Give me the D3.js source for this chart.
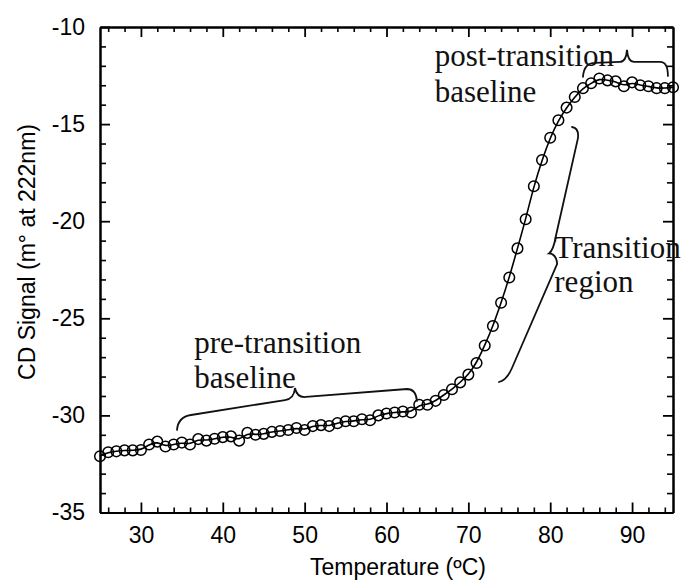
<!DOCTYPE html>
<html>
<head>
<meta charset="utf-8">
<script src="https://cdn.jsdelivr.net/npm/d3@7/dist/d3.min.js"></script>
<style>
  html, body { margin: 0; padding: 0; background: #fff; }
  svg { display: block; }
  .tick text { font-family: "Liberation Sans", Arial, sans-serif; font-size: 23px; fill: #000; }
  .axis-title { font-family: "Liberation Sans", Arial, sans-serif; font-size: 23px; fill: #000; }
  .note { font-family: "Liberation Serif", "Times New Roman", serif; font-size: 31px; fill: #111; }
</style>
</head>
<body>
<svg id="chart" width="685" height="584"></svg>
<script>
// Thermal melt: CD signal at 222 nm versus temperature
const temperatures = [25,26,27,28,29,30,31,32,33,34,35,36,37,38,39,40,41,42,43,44,45,46,47,48,49,50,
  51,52,53,54,55,56,57,58,59,60,61,62,63,64,65,66,67,68,69,70,71,72,73,74,75,76,77,78,79,80,
  81,82,83,84,85,86,87,88,89,90,91,92,93,94,95];
const cdSignal = [-32.1,-31.9,-31.85,-31.8,-31.8,-31.78,-31.5,-31.35,-31.6,-31.5,-31.4,-31.5,-31.22,-31.3,-31.2,-31.12,
  -31.08,-31.3,-30.9,-31.0,-30.95,-30.85,-30.8,-30.75,-30.65,-30.75,-30.55,-30.5,-30.55,-30.4,-30.3,-30.3,-30.2,
  -30.25,-30.0,-29.9,-29.85,-29.8,-29.85,-29.45,-29.45,-29.25,-28.95,-28.65,-28.3,-27.9,-27.3,-26.4,-25.4,-24.2,
  -22.9,-21.4,-19.9,-18.2,-16.85,-15.7,-14.8,-14.15,-13.6,-13.15,-12.9,-12.65,-12.75,-12.8,-13.05,-12.85,-13.0,
  -13.05,-13.15,-13.15,-13.1];

const xMajorTicks = [30,40,50,60,70,80,90];
const xMinorTicks = [26,28,32,34,36,38,42,44,46,48,52,54,56,58,62,64,66,68,72,74,76,78,82,84,86,88,92,94];
const yMajorTicks = [-35,-30,-25,-20,-15,-10];
const yMinorTicks = [-34,-33,-32,-31,-29,-28,-27,-26,-24,-23,-22,-21,-19,-18,-17,-16,-14,-13,-12,-11];

const xTitle = "Temperature (ºC)";
const yTitle = "CD Signal (m° at 222nm)";

// Annotation labels, anchored in data units [temperature, signal]
const notes = [
  { lines: ["post-transition", "baseline"], at: [65.9, -12.01], lead: 1.83 },
  { lines: ["Transition", "region"], at: [80.5, -21.9], lead: 1.75 },
  { lines: ["pre-transition", "baseline"], at: [36.5, -26.8], lead: 1.8 }
];

// Curly braces as path commands in data units
const braces = [
  // post-transition baseline
  [["M",84.0,-12.57],["Q",84.13,-11.85,85.47,-11.85],["L",88.52,-11.8],["Q",89.26,-11.8,89.38,-11.18],
   ["Q",89.5,-11.8,90.23,-11.8],["L",93.41,-11.8],["Q",94.38,-11.8,94.38,-12.52]],
  // transition region
  [["M",82.66,-15.15],["Q",83.52,-15.2,83.39,-15.72],["L",80.7,-20.75],["Q",80.4,-21.5,79.85,-21.66],
   ["Q",80.75,-21.69,80.85,-22.2],["L",75.33,-27.56],["Q",74.72,-28.17,73.74,-28.28]],
  // pre-transition baseline
  [["M",34.41,-30.75],["Q",34.53,-30.08,36.12,-29.98],["L",47.6,-29.21],["Q",48.7,-29.16,48.82,-28.59],
   ["Q",49.07,-29.1,50.16,-29.05],["L",62.5,-28.64],["Q",63.6,-28.64,63.72,-29.26]]
];

const svg = d3.select("#chart");
const x = d3.scaleLinear().domain([25, 95]).range([100, 673]);
const y = d3.scaleLinear().domain([-35, -10]).range([512.5, 27]);

const plotLeft = x.range()[0], plotRight = x.range()[1];
const plotTop = y.range()[1], plotBottom = y.range()[0];

function styleAxis(g, width) {
  g.selectAll(".domain").attr("stroke", "#000").attr("stroke-width", 2);
  g.selectAll(".tick line").attr("stroke", "#000").attr("stroke-width", width);
}

// bottom axis with labels, ticks pointing inward
svg.append("g").attr("transform", `translate(0,${plotBottom})`)
  .call(d3.axisBottom(x).tickValues(xMajorTicks).tickSizeInner(-10).tickSizeOuter(0).tickPadding(14).tickFormat(d3.format("d")))
  .call(g => styleAxis(g, 1.8));
svg.append("g").attr("transform", `translate(0,${plotBottom})`)
  .call(d3.axisBottom(x).tickValues(xMinorTicks).tickSizeInner(-5).tickSizeOuter(0).tickFormat(""))
  .call(g => styleAxis(g, 1.6));
// top axis, ticks only
svg.append("g").attr("transform", `translate(0,${plotTop})`)
  .call(d3.axisTop(x).tickValues(xMajorTicks).tickSizeInner(-10).tickSizeOuter(0).tickFormat(""))
  .call(g => styleAxis(g, 1.8));
svg.append("g").attr("transform", `translate(0,${plotTop})`)
  .call(d3.axisTop(x).tickValues(xMinorTicks).tickSizeInner(-5).tickSizeOuter(0).tickFormat(""))
  .call(g => styleAxis(g, 1.6));
// left axis with labels
svg.append("g").attr("transform", `translate(${plotLeft},0)`)
  .call(d3.axisLeft(y).tickValues(yMajorTicks).tickSizeInner(-10).tickSizeOuter(0).tickPadding(15).tickFormat(d3.format("d")))
  .call(g => styleAxis(g, 1.8));
svg.append("g").attr("transform", `translate(${plotLeft},0)`)
  .call(d3.axisLeft(y).tickValues(yMinorTicks).tickSizeInner(-6).tickSizeOuter(0).tickFormat(""))
  .call(g => styleAxis(g, 1.6));
// right axis, ticks only
svg.append("g").attr("transform", `translate(${plotRight},0)`)
  .call(d3.axisRight(y).tickValues(yMajorTicks).tickSizeInner(-10).tickSizeOuter(0).tickFormat(""))
  .call(g => styleAxis(g, 1.8));
svg.append("g").attr("transform", `translate(${plotRight},0)`)
  .call(d3.axisRight(y).tickValues(yMinorTicks).tickSizeInner(-6).tickSizeOuter(0).tickFormat(""))
  .call(g => styleAxis(g, 1.6));

// plain hyphen for negative labels
svg.selectAll(".tick text").text(function () { return this.textContent.replace("\u2212", "-"); });

// axis titles
svg.append("text").attr("class", "axis-title")
  .attr("x", 398).attr("y", 575).attr("text-anchor", "middle").text(xTitle);
svg.append("text").attr("class", "axis-title")
  .attr("transform", "translate(35,252) rotate(-90)").attr("text-anchor", "middle").text(yTitle);

const points = temperatures.map((t, i) => ({ t, v: cdSignal[i] }));

// smooth fitted curve through the melt data
svg.append("path").datum(points)
  .attr("fill", "none").attr("stroke", "#000").attr("stroke-width", 1.6)
  .attr("d", d3.line().x(d => x(d.t)).y(d => y(d.v)).curve(d3.curveBasis));

// open circle markers
svg.append("g").selectAll("circle").data(points).join("circle")
  .attr("cx", d => x(d.t)).attr("cy", d => y(d.v)).attr("r", 5.3)
  .attr("fill", "none").attr("stroke", "#000").attr("stroke-width", 1.5);

// braces
const braceD = cmds => cmds.map(c => {
  if (c[0] === "Q") return `Q${x(c[1])},${y(c[2])} ${x(c[3])},${y(c[4])}`;
  return `${c[0]}${x(c[1])},${y(c[2])}`;
}).join(" ");
svg.append("g").selectAll("path").data(braces).join("path")
  .attr("d", braceD).attr("fill", "none").attr("stroke", "#111").attr("stroke-width", 1.8)
  .attr("stroke-linecap", "round");

// annotation text
notes.forEach(n => {
  const t = svg.append("text").attr("class", "note").attr("x", x(n.at[0])).attr("y", y(n.at[1]));
  n.lines.forEach((line, i) => {
    t.append("tspan").attr("x", x(n.at[0])).attr("dy", i === 0 ? 0 : n.lead * 19.42).text(line);
  });
});
</script>
</body>
</html>
